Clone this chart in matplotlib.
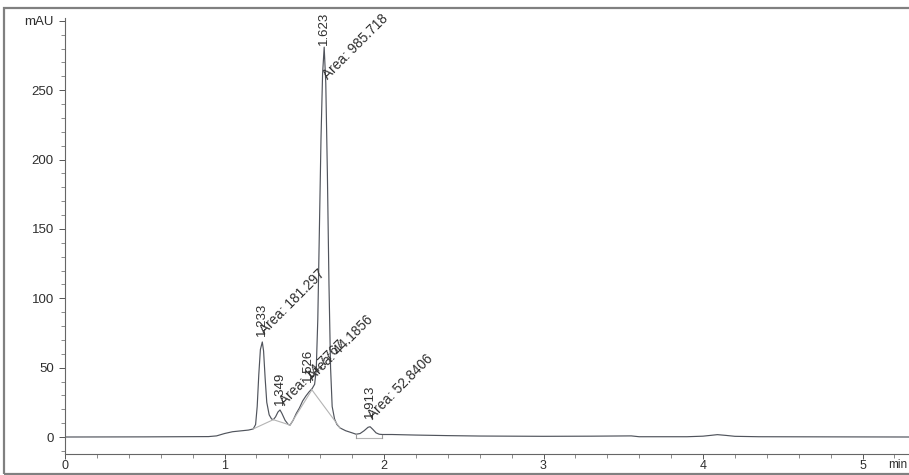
import numpy as np
import matplotlib.pyplot as plt
from matplotlib.patches import Rectangle
from matplotlib.ticker import MultipleLocator

plt.rcParams["font.family"] = ["Liberation Sans", "DejaVu Sans"]

# chromatogram trace (time in min, signal in mAU)
time = [0.0, 0.5, 0.9, 0.95, 1.0, 1.05, 1.10, 1.15, 1.18, 1.195, 1.205, 1.215,
        1.225, 1.237, 1.245, 1.255, 1.265, 1.28, 1.295, 1.306, 1.32, 1.335,
        1.348, 1.36, 1.38, 1.40, 1.411, 1.43, 1.45, 1.47, 1.49, 1.51, 1.53,
        1.55, 1.565, 1.575, 1.585, 1.595, 1.605, 1.615, 1.625, 1.635, 1.645,
        1.655, 1.665, 1.675, 1.69, 1.705, 1.725, 1.76, 1.80, 1.825, 1.85,
        1.875, 1.90, 1.913, 1.93, 1.95, 1.97, 1.99, 2.05, 2.2, 2.4, 2.6, 3.0,
        3.3, 3.55, 3.6, 3.9, 4.0, 4.05, 4.09, 4.14, 4.2, 4.35, 4.8, 5.3]
signal = [0.0, 0.1, 0.3, 0.8, 2.5, 3.8, 4.4, 5.0, 5.8, 9, 22, 45,
          63, 68.5, 62, 42, 25, 16, 13, 12.5, 14.5, 18,
          19.5, 17, 12, 9, 8.6, 12, 17, 21, 26, 29.5, 32.5,
          35, 38, 48, 85, 150, 215, 262, 281, 255, 190,
          110, 50, 22, 13, 9, 6.5, 4.5, 3, 2, 2.5,
          4.5, 7, 7.4, 5.5, 3, 2, 1.8, 1.8, 1.4, 1.0, 0.7, 0.5,
          0.6, 0.8, 0.2, 0.2, 0.6, 1.2, 1.7, 1.2, 0.5, 0.2, 0.1, 0.0]

# integrated peaks
peak_rt = [1.233, 1.349, 1.526, 1.623, 1.913]
peak_area = ["181.297", "14.7767", "44.1856", "985.718", "52.8406"]
rt_label_y = [72.8, 23.0, 39.6, 282.4, 13.7]
area_x = [1.266, 1.392, 1.567, 1.661, 1.944]
area_y = [72.0, 20.9, 38.9, 255.8, 10.8]

# integration baselines (start/end time, start/end signal)
base_t = [(1.18, 1.306), (1.306, 1.411), (1.411, 1.548), (1.548, 1.725),
          (1.825, 1.99)]
base_s = [(5.8, 12.5), (12.5, 8.6), (8.6, 34.0), (34.0, 6.5), (-0.6, -0.6)]
drop_t = [1.825, 1.99]
drop_s = [(2.0, -0.6), (1.8, -0.6)]

yticks = [0, 50, 100, 150, 200, 250, 300]
ytick_labels = ["0", "50", "100", "150", "200", "250", "mAU"]
xticks = [0, 1, 2, 3, 4, 5]

fig = plt.figure(figsize=(9.09, 4.75), dpi=100)
ax = fig.add_axes([65 / 909, 1 - 454 / 475, 1 - 65 / 909, (454 - 18) / 475])

trace_c = "#50545c"
text_c = "#2e2e2e"
ax.plot(time, signal, color=trace_c, lw=0.85)
for (t0, t1), (s0, s1) in zip(base_t, base_s):
    ax.plot([t0, t1], [s0, s1], color="#b4b4b4", lw=0.8)
for t, (s0, s1) in zip(drop_t, drop_s):
    ax.plot([t, t], [s0, s1], color="#9a9a9a", lw=0.8)

for rt, ly, ax_, ay, area in zip(peak_rt, rt_label_y, area_x, area_y, peak_area):
    ax.text(rt, ly, f"{rt:.3f}", rotation=90, ha="center", va="bottom",
            fontsize=9.5, color=text_c)
    ax.text(ax_, ay, f"Area: {area}", rotation=45, rotation_mode="anchor",
            ha="left", va="bottom", fontsize=9.8, color=text_c)

ax.set_xlim(0, (909 - 65) / 159.5)
ax.set_ylim((437 - 454) / 1.388, 302)
ax.set_yticks(yticks)
ax.set_yticklabels(ytick_labels)
ax.yaxis.set_minor_locator(MultipleLocator(10))
ax.set_xticks(xticks)
ax.xaxis.set_minor_locator(MultipleLocator(0.2))
ax.tick_params(axis="both", which="major", direction="out", length=4.5,
               width=0.7, colors="#555555", labelcolor=text_c, labelsize=9.5)
ax.tick_params(axis="both", which="minor", direction="out", length=3,
               width=0.6, colors="#777777")
ax.tick_params(axis="x", which="major", length=3.5, pad=1, labelsize=9)
for side in ["top", "right"]:
    ax.spines[side].set_visible(False)
ax.spines["left"].set_color("#666666")
ax.spines["bottom"].set_color("#666666")
ax.spines["left"].set_linewidth(0.8)
ax.spines["bottom"].set_linewidth(0.8)
ax.text(0.998, -0.012, "min", transform=ax.transAxes, ha="right", va="top",
        fontsize=8.5, color=text_c, clip_on=False)

# scanned page frame
fig.patches.append(Rectangle((4 / 909, 1.5 / 475), 1.2, (472 - 6) / 475,
                             transform=fig.transFigure, fill=False,
                             edgecolor="#808080", lw=1.6))

fig.savefig("out.png", dpi=100)
